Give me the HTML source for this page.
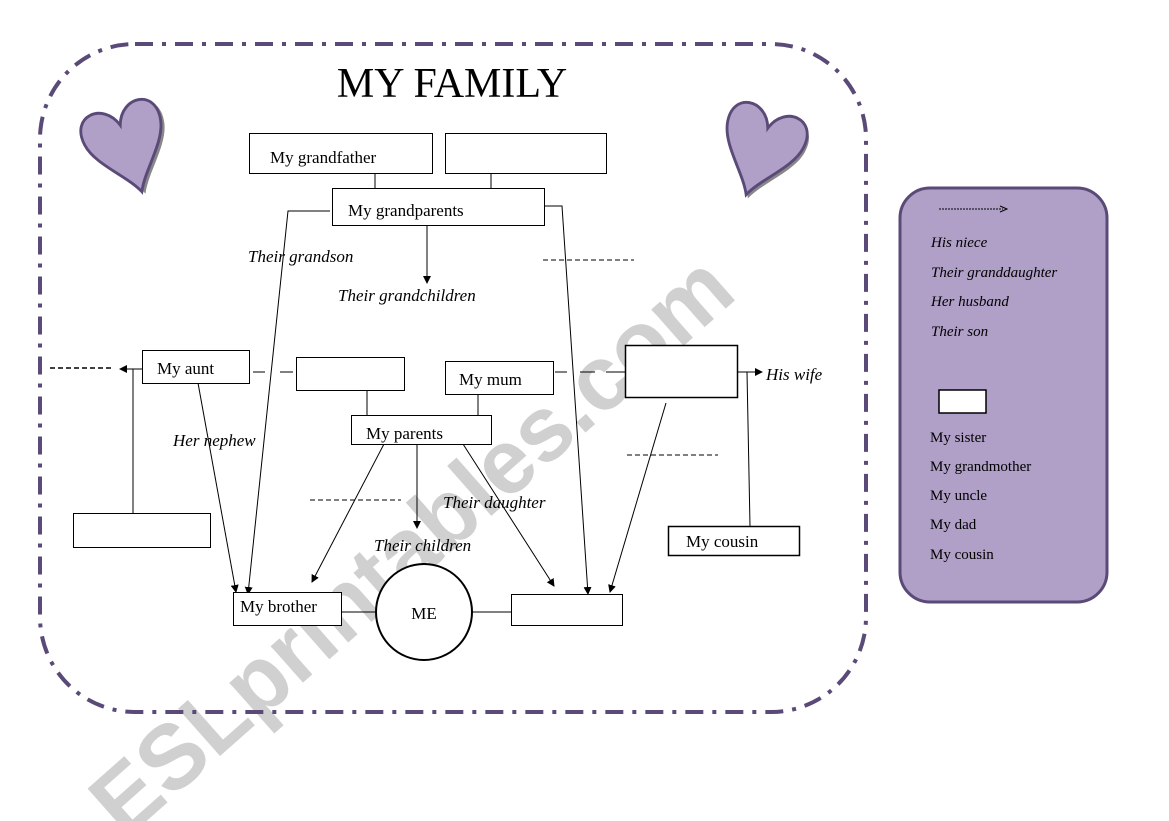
<!DOCTYPE html>
<html><head><meta charset="utf-8"><style>
html,body{margin:0;padding:0;background:#fff;}
svg{display:block;}
text{font-family:"Liberation Serif",serif;}
</style></head><body>
<svg width="1169" height="821" viewBox="0 0 1169 821" xmlns="http://www.w3.org/2000/svg">
<defs>
<marker id="a" markerWidth="8" markerHeight="8" refX="7" refY="4" orient="auto" markerUnits="userSpaceOnUse"><path d="M0,0 L8,4 L0,8 z" fill="#000"/></marker>
</defs>
<!-- watermark -->
<text x="0" y="0" transform="translate(125,840) rotate(-41.5)" font-weight="bold" font-size="92" fill="#d0d0d0" textLength="820" lengthAdjust="spacingAndGlyphs" style="font-family:'Liberation Sans',sans-serif">ESLprintables.com</text>
<!-- outer border -->
<rect x="40" y="44" width="826" height="668" rx="95" ry="95" fill="none" stroke="#5a4a78" stroke-width="4" stroke-dasharray="18 9 4 9"/>
<!-- hearts -->
<g transform="translate(127,146) rotate(-18) scale(0.95,1)">
<path d="M0,-22 C10,-50 48,-46 42,-14 C38,8 10,28 0,48 C-10,28 -38,8 -42,-14 C-48,-46 -10,-50 0,-22 Z" fill="#888" transform="translate(3,3)"/>
<path d="M0,-22 C10,-50 48,-46 42,-14 C38,8 10,28 0,48 C-10,28 -38,8 -42,-14 C-48,-46 -10,-50 0,-22 Z" fill="#b0a0c8" stroke="#5a4a78" stroke-width="3"/>
</g>
<g transform="translate(761,149) rotate(18) scale(0.95,1)">
<path d="M0,-22 C10,-50 48,-46 42,-14 C38,8 10,28 0,48 C-10,28 -38,8 -42,-14 C-48,-46 -10,-50 0,-22 Z" fill="#888" transform="translate(3,3)"/>
<path d="M0,-22 C10,-50 48,-46 42,-14 C38,8 10,28 0,48 C-10,28 -38,8 -42,-14 C-48,-46 -10,-50 0,-22 Z" fill="#b0a0c8" stroke="#5a4a78" stroke-width="3"/>
</g>
<text x="452" y="97" font-size="42" text-anchor="middle">MY FAMILY</text>
<g stroke="#000" stroke-width="1" fill="none">
<line x1="375" y1="173" x2="375" y2="188"/>
<line x1="491" y1="173" x2="491" y2="188"/>
<polyline points="330,211 288,211 248,594" marker-end="url(#a)"/>
<polyline points="544,206 562,206 588,594" marker-end="url(#a)"/>
<line x1="427" y1="225" x2="427" y2="283" marker-end="url(#a)"/>
<line x1="543" y1="260" x2="634" y2="260" stroke-dasharray="5 3"/>
<line x1="253" y1="372" x2="265" y2="372"/><line x1="280" y1="372" x2="293" y2="372"/>
<line x1="555" y1="372" x2="567" y2="372"/><line x1="580" y1="372" x2="595" y2="372"/><line x1="606" y1="372" x2="625" y2="372"/>
<line x1="737" y1="372" x2="762" y2="372" marker-end="url(#a)"/>
<line x1="747" y1="372" x2="750" y2="526"/>
<polyline points="142,369 133,369 133,513"/>
<line x1="136" y1="369" x2="120" y2="369" marker-end="url(#a)"/>
<line x1="50" y1="368" x2="112" y2="368" stroke-dasharray="5 3" stroke-width="1.5"/>
<line x1="367" y1="390" x2="367" y2="415"/>
<line x1="478" y1="394" x2="478" y2="415"/>
<line x1="198" y1="383" x2="236" y2="592" marker-end="url(#a)"/>
<line x1="384" y1="444" x2="312" y2="582" marker-end="url(#a)"/>
<line x1="417" y1="444" x2="417" y2="528" marker-end="url(#a)"/>
<line x1="463" y1="444" x2="554" y2="586" marker-end="url(#a)"/>
<line x1="310" y1="500" x2="401" y2="500" stroke-dasharray="5 3"/>
<line x1="627" y1="455" x2="718" y2="455" stroke-dasharray="5 3"/>
<line x1="666" y1="403" x2="610" y2="592" marker-end="url(#a)"/>
<line x1="341" y1="612" x2="377" y2="612"/>
<line x1="472" y1="612" x2="511" y2="612"/>
</g>
<g stroke="#000" fill="#fff" stroke-width="1">
<rect x="249.5" y="133.5" width="183" height="40"/>
<rect x="445.5" y="133.5" width="161" height="40"/>
<rect x="332.5" y="188.5" width="212" height="37"/>
<rect x="142.5" y="350.5" width="107" height="33"/>
<rect x="296.5" y="357.5" width="108" height="33"/>
<rect x="445.5" y="361.5" width="108" height="33"/>
<rect x="625.5" y="345.5" width="112" height="52" stroke-width="1.5"/>
<rect x="668.5" y="526.5" width="131" height="29" stroke-width="1.5"/>
<rect x="73.5" y="513.5" width="137" height="34"/>
<rect x="351.5" y="415.5" width="140" height="29"/>
<rect x="233.5" y="592.5" width="108" height="33"/>
<rect x="511.5" y="594.5" width="111" height="31"/>
<circle cx="424" cy="612" r="48" stroke-width="2"/>
</g>
<g font-size="17" fill="#000">
<text x="270" y="163">My grandfather</text>
<text x="348" y="216">My grandparents</text>
<text x="157" y="374">My aunt</text>
<text x="459" y="385">My mum</text>
<text x="366" y="439">My parents</text>
<text x="686" y="547">My cousin</text>
<text x="240" y="612">My brother</text>
<text x="424" y="619" text-anchor="middle">ME</text>
</g>
<g font-size="17" font-style="italic" fill="#000">
<text x="248" y="262">Their  grandson</text>
<text x="338" y="301">Their grandchildren</text>
<text x="766" y="380">His wife</text>
<text x="173" y="446">Her nephew</text>
<text x="443" y="508">Their daughter</text>
<text x="374" y="551">Their children</text>
</g>
<!-- legend -->
<rect x="900" y="188" width="207" height="414" rx="30" fill="#b0a0c8" stroke="#5a4a78" stroke-width="3"/>
<line x1="939" y1="209" x2="1003" y2="209" stroke="#000" stroke-dasharray="2 1" stroke-width="1"/>
<path d="M1000,206 L1007,209 L1000,212" fill="none" stroke="#000"/>
<g font-size="15" font-style="italic">
<text x="931" y="247">His niece</text>
<text x="931" y="277">Their granddaughter</text>
<text x="931" y="306">Her husband</text>
<text x="931" y="336">Their son</text>
</g>
<rect x="939" y="390" width="47" height="23" fill="#fff" stroke="#000" stroke-width="1.5"/>
<g font-size="15">
<text x="930" y="442">My sister</text>
<text x="930" y="471">My grandmother</text>
<text x="930" y="500">My uncle</text>
<text x="930" y="529">My dad</text>
<text x="930" y="559">My cousin</text>
</g>
</svg>
</body></html>
